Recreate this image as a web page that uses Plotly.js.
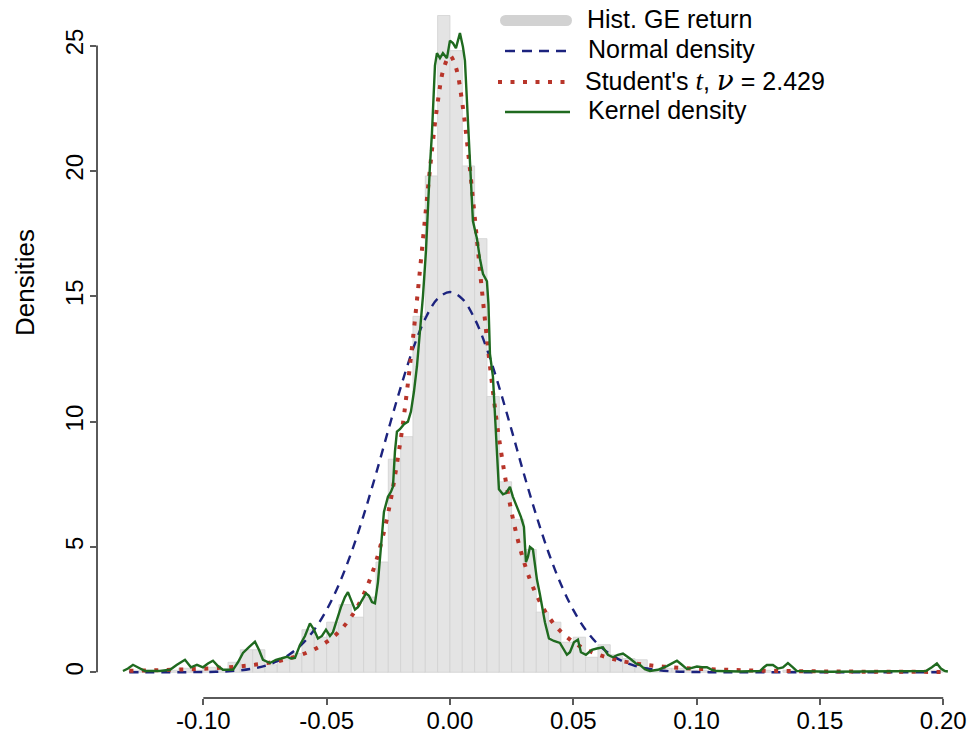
<!DOCTYPE html>
<html>
<head>
<meta charset="utf-8">
<script src="https://cdn.plot.ly/plotly-3.0.1.min.js"></script>
<style>html,body{margin:0;padding:0;background:#fff;}#chart{width:980px;height:737px;}</style>
</head>
<body>
<div id="chart"></div>
<script>
// ---------- DATA ----------
// Histogram: bin centres (bin width 0.005) and densities
const histX = [-0.1275,-0.1225,-0.1125,-0.1075,-0.1025,-0.0975,-0.0925,-0.0875,-0.0825,-0.0775,-0.0725,-0.0675,-0.0625,-0.0575,-0.0525,-0.0475,-0.0425,-0.0375,-0.0325,-0.0275,-0.0225,-0.0175,-0.0125,-0.0075,-0.0025,0.0025,0.0075,0.0125,0.0175,0.0225,0.0275,0.0325,0.0375,0.0425,0.0475,0.0525,0.0575,0.0625,0.0675,0.0725,0.0775,0.0825,0.0875,0.0925,0.0975,0.1025,0.1275,0.1375,0.1975];
const histY = [0.08,0.08,0.08,0.16,0.08,0.2,0.1,0.4,0.9,0.9,0.3,0.5,0.75,1.7,1.4,2.0,2.7,2.2,3.0,4.4,8.5,9.4,14.2,19.8,26.2,24.8,20.2,17.3,11.0,7.6,6.1,4.9,2.4,2.0,1.2,1.4,0.6,1.1,0.7,0.55,0.5,0.08,0.16,0.16,0.08,0.08,0.08,0.08,0.08];

// Normal density curve
const normX = [-0.13,-0.125,-0.12,-0.115,-0.11,-0.105,-0.1,-0.095,-0.09,-0.085,-0.08,-0.075,-0.07,-0.065,-0.06,-0.055,-0.05,-0.045,-0.04,-0.035,-0.03,-0.025,-0.02,-0.015,-0.01,-0.005,0,0.005,0.01,0.015,0.02,0.025,0.03,0.035,0.04,0.045,0.05,0.055,0.06,0.065,0.07,0.075,0.08,0.085,0.09,0.095,0.1,0.105,0.11,0.115,0.12,0.13,0.14,0.15,0.16,0.17,0.18,0.19,0.2];
const normY = [0,0,0,0.001,0.002,0.005,0.01,0.02,0.04,0.08,0.15,0.26,0.44,0.72,1.12,1.70,2.49,3.51,4.77,6.26,7.91,9.66,11.36,12.89,14.11,14.90,15.17,14.90,14.11,12.89,11.36,9.66,7.91,6.26,4.77,3.51,2.49,1.70,1.12,0.72,0.44,0.26,0.15,0.08,0.04,0.02,0.01,0.005,0.002,0.001,0,0,0,0,0,0,0,0,0];

// Student's t density curve (nu = 2.429)
const tX = [-0.13,-0.12,-0.11,-0.1,-0.09,-0.08,-0.07,-0.065,-0.06,-0.055,-0.05,-0.045,-0.04,-0.035,-0.03,-0.025,-0.02,-0.0175,-0.015,-0.0125,-0.01,-0.0075,-0.005,-0.0025,0,0.0025,0.005,0.0075,0.01,0.0125,0.015,0.0175,0.02,0.025,0.03,0.035,0.04,0.045,0.05,0.055,0.06,0.065,0.07,0.08,0.09,0.1,0.11,0.12,0.13,0.14,0.15,0.16,0.17,0.18,0.19,0.2];
const tY = [0.06,0.08,0.11,0.14,0.20,0.29,0.44,0.56,0.71,0.92,1.21,1.62,2.22,3.10,4.41,6.38,9.27,11.15,13.31,15.70,18.21,20.64,22.71,24.10,24.6,24.10,22.71,20.64,18.21,15.70,13.31,11.15,9.27,6.38,4.41,3.10,2.22,1.62,1.21,0.92,0.71,0.56,0.44,0.29,0.20,0.14,0.11,0.08,0.06,0.047,0.038,0.030,0.025,0.021,0.018,0.015];

// Kernel density curve
const kdeX = [-0.13257,-0.13054,-0.12851,-0.12649,-0.12365,-0.11757,-0.11351,-0.11068,-0.10743,-0.105,-0.10257,-0.10014,-0.09811,-0.09608,-0.09406,-0.09203,-0.08797,-0.08595,-0.08392,-0.08149,-0.07905,-0.07743,-0.07581,-0.07297,-0.07054,-0.06851,-0.06608,-0.06446,-0.06284,-0.06081,-0.05878,-0.05676,-0.05514,-0.05351,-0.05189,-0.05027,-0.04865,-0.04743,-0.04581,-0.04419,-0.04257,-0.04135,-0.04014,-0.03851,-0.0373,-0.03568,-0.03405,-0.03284,-0.03162,-0.03041,-0.02919,-0.02797,-0.02676,-0.02514,-0.02392,-0.02311,-0.0223,-0.02149,-0.02027,-0.01865,-0.01703,-0.01581,-0.01459,-0.01338,-0.01216,-0.01095,-0.00973,-0.00892,-0.00811,-0.0073,-0.00669,-0.00608,-0.00527,-0.00405,-0.00284,-0.00122,0,0.00122,0.00243,0.00405,0.00527,0.00608,0.00689,0.0075,0.00811,0.00932,0.01095,0.01216,0.01338,0.015,0.01561,0.01622,0.01743,0.01824,0.01905,0.01986,0.02149,0.0227,0.02432,0.02554,0.02716,0.02878,0.03,0.03081,0.03162,0.03243,0.03365,0.03446,0.03527,0.03649,0.0373,0.03851,0.04014,0.04216,0.04459,0.04662,0.04743,0.04865,0.05027,0.05189,0.05311,0.05514,0.05757,0.05959,0.06203,0.06405,0.06608,0.06811,0.07014,0.07297,0.07541,0.07703,0.07905,0.08108,0.08432,0.08797,0.09,0.09203,0.09405,0.09608,0.09811,0.10014,0.10216,0.10419,0.10622,0.10824,0.11757,0.12568,0.1273,0.12851,0.13095,0.13297,0.135,0.13703,0.13905,0.14068,0.15405,0.18243,0.19297,0.1954,0.19743,0.19905,0.20068,0.20189];
const kdeY = [0.05,0.15,0.3,0.2,0.05,0.05,0.1,0.3,0.5,0.2,0.3,0.2,0.35,0.46,0.25,0.1,0.1,0.4,0.77,1.0,1.22,0.9,0.5,0.37,0.5,0.55,0.62,0.55,0.57,1.09,1.45,1.95,1.7,1.35,1.45,1.7,1.45,1.6,2.1,2.6,3.0,3.2,2.9,2.5,2.6,2.9,3.15,3.05,2.8,2.75,3.6,5.0,6.4,7.0,7.2,7.4,8.8,9.6,9.7,9.9,10.0,10.4,11.2,12.2,13.6,15.0,16.8,18.8,20.2,21.5,22.8,24.2,24.7,24.5,24.7,24.5,25.2,25.1,24.9,25.5,24.95,24.4,22.8,21.5,20.2,18.0,17.3,16.5,15.9,15.6,14.7,12.7,11.8,10.2,8.6,7.3,7.1,7.15,7.4,7.0,6.6,6.2,5.8,4.4,4.6,5.0,4.9,4.2,3.7,3.1,2.6,2.0,1.35,1.25,1.17,0.8,0.7,0.8,1.2,1.3,0.8,0.7,0.9,0.95,1.0,0.7,0.6,0.7,0.75,0.55,0.35,0.3,0.12,0.05,0.1,0.25,0.35,0.46,0.3,0.13,0.18,0.23,0.2,0.2,0.1,0.05,0.03,0.05,0.2,0.29,0.29,0.15,0.2,0.37,0.2,0.05,0.02,0.02,0.05,0.2,0.35,0.15,0.05,0.03];

const xTickVals = [-0.10,-0.05,0.00,0.05,0.10,0.15,0.20];
const xTickText = ["-0.10","-0.05","0.00","0.05","0.10","0.15","0.20"];
const yTickVals = [0,5,10,15,20,25];
const yTickText = ["0","5","10","15","20","25"];
const legendLabels = ["Hist. GE return","Normal density",
  "Student's <span style=\"font-family:'Liberation Serif',serif;font-style:italic;font-size:27px\">t</span>, <span style=\"font-family:'DejaVu Serif',serif;font-style:italic;font-size:28px\">ν</span> = 2.429",
  "Kernel density"];
const yTitle = "Densities";

// ---------- LAYOUT HELPERS ----------
const W = 980, H = 737;
const PL = 97, PR = 960, PT = 5, PB = 698;
const px = v => (v - PL) / (PR - PL);
const py = v => (PB - v) / (PB - PT);
const FONT = "'Liberation Sans', Arial, sans-serif";
const AXC = "#5a5a5a";

const cNavy = "#1c237e", cRed = "#b8352a", cGreen = "#1f6a1f", cGrey = "#d2d2d2";

const traces = [
  {type:"bar", x:histX, y:histY, width:0.005, marker:{color:"#e4e4e4", line:{color:"#d2d2d2", width:0.8}}, showlegend:false, hoverinfo:"skip"},
  {type:"scatter", mode:"lines", x:normX, y:normY, line:{color:cNavy, width:2.4, dash:"9px,7px", shape:"spline"}, showlegend:false},
  {type:"scatter", mode:"lines", x:tX, y:tY, line:{color:cRed, width:4, dash:"4px,8.5px", shape:"spline"}, showlegend:false},
  {type:"scatter", mode:"lines", x:kdeX, y:kdeY, line:{color:cGreen, width:2.4}, showlegend:false}
];

const shapes = [
  // R-style axis lines spanning only the tick range
  {type:"line", xref:"x", yref:"paper", x0:xTickVals[0], x1:xTickVals[xTickVals.length-1], y0:0, y1:0, line:{color:AXC, width:2}},
  {type:"line", xref:"paper", yref:"y", x0:0, x1:0, y0:yTickVals[0], y1:yTickVals[yTickVals.length-1], line:{color:AXC, width:2}},
  // legend symbols
  {type:"rect", xref:"paper", yref:"paper", x0:px(505.5), x1:px(566.5), y0:py(26), y1:py(15), fillcolor:cGrey, line:{width:0}},
  {type:"circle", xref:"paper", yref:"paper", x0:px(500), x1:px(511), y0:py(26), y1:py(15), fillcolor:cGrey, line:{width:0}},
  {type:"circle", xref:"paper", yref:"paper", x0:px(561), x1:px(572), y0:py(26), y1:py(15), fillcolor:cGrey, line:{width:0}},
  {type:"line", xref:"paper", yref:"paper", x0:px(505), x1:px(570), y0:py(51), y1:py(51), line:{color:cNavy, width:2.4, dash:"10px,7px"}},
  {type:"line", xref:"paper", yref:"paper", x0:px(498), x1:px(566), y0:py(82), y1:py(82), line:{color:cRed, width:4, dash:"4px,8.5px"}},
  {type:"line", xref:"paper", yref:"paper", x0:px(505), x1:px(570), y0:py(112), y1:py(112), line:{color:cGreen, width:2.4}}
];

const legRowsY = [19, 49, 80, 110];
const legTextX = [585, 586, 583, 586];
const annotations = legendLabels.map((t, i) => ({
  xref:"paper", yref:"paper", x:px(legTextX[i]), y:py(legRowsY[i]), xanchor:"left", yanchor:"middle",
  text:t, showarrow:false, font:{family:FONT, size:25, color:"#000"}
}));
annotations.push({xref:"paper", yref:"paper", x:px(25), y:py(283), xanchor:"center", yanchor:"middle",
  text:yTitle, textangle:-90, showarrow:false, font:{family:FONT, size:26, color:"#000"}});

const layout = {
  width:W, height:H, autosize:false,
  margin:{l:PL, r:W-PR, t:PT, b:H-PB, pad:0},
  paper_bgcolor:"#fff", plot_bgcolor:"#fff",
  font:{family:FONT, size:24, color:"#000"},
  bargap:0,
  xaxis:{range:[-0.1431, 0.2068], showgrid:false, zeroline:false, showline:false,
    tickmode:"array", tickvals:xTickVals, ticktext:xTickText, ticks:"outside", ticklen:6, tickwidth:2, tickcolor:AXC,
    ticklabelstandoff:-5, tickfont:{family:FONT, size:24, color:"#000"}},
  yaxis:{range:[-1.025, 26.62], showgrid:false, zeroline:false, showline:false,
    tickmode:"array", tickvals:yTickVals, ticktext:yTickText, ticks:"outside", ticklen:6, tickwidth:2, tickcolor:AXC,
    ticklabelstandoff:-3, tickangle:-90, tickfont:{family:FONT, size:24, color:"#000"}},
  shapes:shapes, annotations:annotations, showlegend:false
};

Plotly.newPlot("chart", traces, layout, {staticPlot:true, displayModeBar:false});
</script>
</body>
</html>
